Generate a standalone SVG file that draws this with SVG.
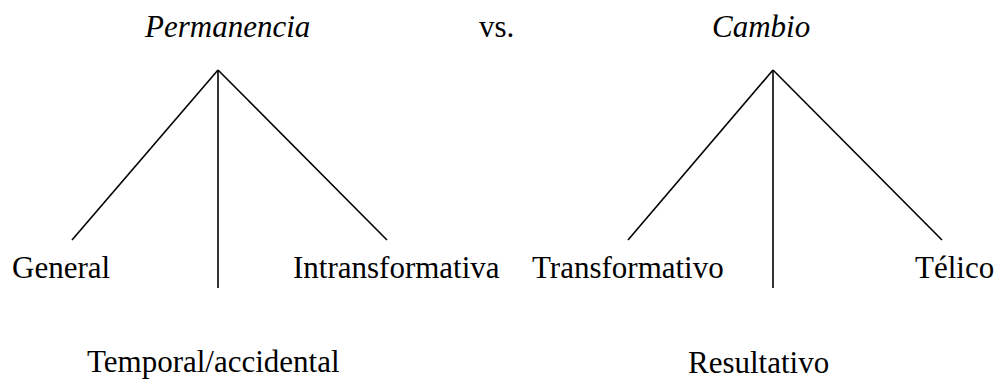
<svg xmlns="http://www.w3.org/2000/svg" width="996" height="379" viewBox="0 0 996 379">
<style>
text{font-family:"Liberation Serif","Times New Roman",serif;font-size:31px;fill:#000}
.it{font-style:italic}
.ln{stroke:#000;stroke-width:1.6;fill:none}
</style>
<rect width="996" height="379" fill="#fff"/>
<g id="connectors">
<line class="ln" x1="218" y1="70" x2="72" y2="240"/>
<line class="ln" x1="218" y1="70" x2="218" y2="288"/>
<line class="ln" x1="218" y1="70" x2="387" y2="240"/>
<line class="ln" x1="773" y1="70" x2="628" y2="240"/>
<line class="ln" x1="773" y1="70" x2="773" y2="288"/>
<line class="ln" x1="773" y1="70" x2="942" y2="240"/>
</g>
<g id="permanencia"><text class="it" x="145" y="37">Permanencia</text></g>
<g id="vs"><text x="479" y="37">vs.</text></g>
<g id="cambio"><text class="it" x="712" y="37">Cambio</text></g>
<g id="general"><text x="12" y="278">General</text></g>
<g id="intransformativa"><text x="293" y="278">Intransformativa</text></g>
<g id="temporal"><text x="87" y="372">Temporal/accidental</text></g>
<g id="transformativo"><text x="532" y="278">Transformativo</text></g>
<g id="telico"><text x="915" y="278">Télico</text></g>
<g id="resultativo"><text x="688" y="373">Resultativo</text></g>
</svg>
